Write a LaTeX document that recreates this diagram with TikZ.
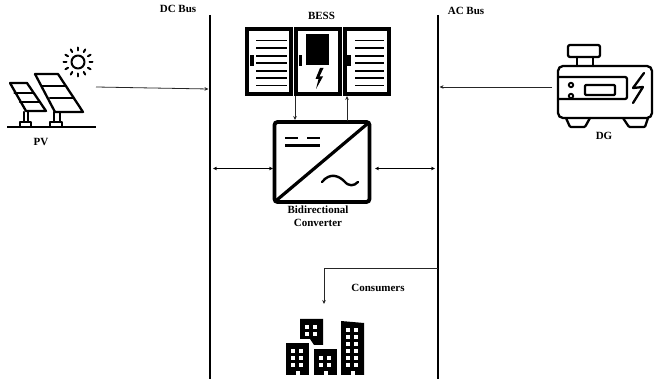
\documentclass[tikz,border=0pt]{standalone}
\usepackage{fontspec}
\setmainfont{Liberation Serif}
\usetikzlibrary{arrows.meta}
\tikzset{
  lbl/.style={font=\bfseries\fontsize{11}{12.6}\selectfont,align=center,inner sep=0pt,text=black},
  bus/.style={line width=2.8pt,black},
  conn/.style={line width=0.8pt,black!85,-{Stealth[length=4pt,width=3.6pt]}},
  conn2/.style={line width=0.8pt,black,{Stealth[length=4pt,width=3.6pt]}-{Stealth[length=4pt,width=3.6pt]}},
  icon/.style={line width=2.3pt,black,line join=round,line cap=round},
  cab/.style={draw=black,line width=3.6pt,fill=white,minimum width=44.5pt,minimum height=65pt,inner sep=0pt},
  conv/.style={draw=black,line width=3.8pt,fill=white,rounded corners=3pt,minimum width=95pt,minimum height=80pt,inner sep=0pt},
  shelf/.style={line width=1.9pt,black},
  win/.style={fill=black,draw=none},
  hole/.style={fill=white,draw=none}
}
\newcommand{\wins}[3]{% x, y of top-left window, rows
  \foreach \r in {1,...,#3}{
    \pgfmathsetmacro{\yy}{#2+(\r-1)*7}
    \fill[hole] (#1,\yy) rectangle ++(4.4,3.6);
    \fill[hole] (#1+8,\yy) rectangle ++(4.4,3.6);
  }}
\begin{document}
\begin{tikzpicture}[x=1pt,y=-1pt]
\useasboundingbox (0,0) rectangle (654,379);
% buses
\coordinate (dctop) at (210,15); \coordinate (dcbot) at (210,379);
\coordinate (actop) at (438,15); \coordinate (acbot) at (438,379);
\draw[bus] (dctop) -- (dcbot);
\draw[bus] (actop) -- (acbot);
% labels
\node[lbl] (ldc) at (178,9) {DC Bus};
\node[lbl] (lac) at (466,11) {AC Bus};
\node[lbl] (lbess) at (321.5,16) {BESS};
\node[lbl] (lpv) at (41,142) {PV};
\node[lbl] (ldg) at (604,136) {DG};
\node[lbl] (lcons) at (378,288) {Consumers};
\node[lbl,text width=80pt] (lconv) at (318,216) {Bidirectional\\Converter};
% BESS
\node[cab] (c1) at (269,61.5) {};
\node[cab] (c2) at (318,61.5) {};
\node[cab] (c3) at (367,61.5) {};
\foreach \y in {40.5,48,56,63,71,78,85.5}{
  \draw[shelf] (256,\y) -- (287,\y);
  \draw[shelf] (355,\y) -- (384,\y);
}
\fill[win] (250,55) rectangle (254,66);
\fill[win] (298.5,55) rectangle (302,66);
\fill[win] (347,55) rectangle (351,66);
\fill[win] (306,34) rectangle (329,65);
\fill[win] (320,68) -- (315.5,79) -- (318.5,79) -- (316,89) -- (323,76.5) -- (319.5,76.5) -- (323.5,68) -- cycle;
% converter
\node[conv] (conv) at (322,162) {};
\draw[line width=3.2pt,black] ([xshift=2pt,yshift=2pt]conv.south west) -- ([xshift=-2pt,yshift=-2pt]conv.north east);
\draw[line width=2.4pt] (285,138) -- (298,138) (307,138) -- (320,138);
\draw[line width=2.4pt] (285,145.5) -- (320,145.5);
\draw[line width=2.4pt,line cap=round] (322,182) .. controls (330,172) and (339,176) .. (344,181) .. controls (349,187) and (354,186) .. (358,182);
% connectors
\coordinate (pvout) at (96,87); \coordinate (pvin) at (208.5,89);
\coordinate (dgout) at (552,87); \coordinate (dgin) at (439.5,87);
\draw[conn] (pvout) -- (pvin);
\draw[conn] (dgout) -- (dgin);
\coordinate (b1) at (295,96); \coordinate (b1e) at (295,120);
\coordinate (b2) at (347,121); \coordinate (b2e) at (347,96);
\draw[conn] (b1) -- (b1e);
\draw[conn] (b2) -- (b2e);
\coordinate (l1) at (213,168.5); \coordinate (l2) at (273,168.5);
\coordinate (r1) at (375,168.5); \coordinate (r2) at (435,168.5);
\draw[conn2] (l1) -- (l2);
\draw[conn2] (r1) -- (r2);
\coordinate (cs) at (438,268); \coordinate (cc) at (324,268); \coordinate (ce) at (324,304);
\draw[conn] (cs) -- (cc) -- (ce);
% PV icon
\draw[line width=2.2pt,black] (7,126.7) -- (96,126.7);
\begin{scope}[icon]
\draw (24,112) -- (24,121) (28,112) -- (28,121);
\draw (20,126) -- (20,122) -- (31,122) -- (31,126);
\draw[fill=white] (10,83) -- (27,83) -- (46,111) -- (26,111) -- cycle;
\draw (14.5,93) -- (33,93) (20,102) -- (39,102);
\draw (54,112) -- (54,122) (60,112) -- (60,122);
\draw (50,126) -- (50,122) -- (62,122) -- (62,126);
\draw[fill=white] (35,74) -- (58,74) -- (83,112) -- (55,112) -- cycle;
\draw (42.5,86) -- (66,86) (50,98) -- (73.5,98);
\draw[line width=2pt] (78,62) circle (6.5);
\foreach \a in {0,30,...,330}{
  \draw[line width=2pt] (78,62) ++(\a:11.5) -- ++(\a:3);
}
\end{scope}
% DG icon
\begin{scope}[icon]
\draw[rounded corners=2pt] (568,45) rectangle (600,57);
\draw (577,57) -- (577,66) (593,57) -- (593,66);
\draw[rounded corners=5pt] (558,66) rectangle (652,118);
\draw[rounded corners=2pt] (558,77) -- (627,77) -- (627,99) -- (558,99);
\draw[rounded corners=1pt] (585,85) rectangle (615,95);
\draw[line width=1.9pt] (571,85) circle (2.2) (571,96) circle (2.2);
\draw (644,73) -- (633,88) -- (643,87) -- (633,103);
\draw[rounded corners=1pt] (566,118) -- (570,127) -- (585,127) -- (590,118);
\draw[rounded corners=1pt] (623,118) -- (629,127) -- (645,127) -- (648,118);
\end{scope}
% buildings
\fill[win] (300,319) -- (323,319) -- (323,345) -- (314,345) -- (310,339) -- (300,339) -- cycle;
\wins{304.5}{325}{2}
\fill[win] (286,343) rectangle (309,375);
\wins{291}{349}{3}
\fill[win] (314,349) rectangle (337,375);
\wins{319}{356}{2}
\fill[win] (341,321) -- (364,323) -- (364,375) -- (341,375) -- cycle;
\wins{346}{328}{6}
\fill[hole] (295.5,371) rectangle (299.5,375);
\fill[hole] (323.5,371) rectangle (327.5,375);
\fill[hole] (350.5,371) rectangle (354.5,375);
\end{tikzpicture}
\end{document}
